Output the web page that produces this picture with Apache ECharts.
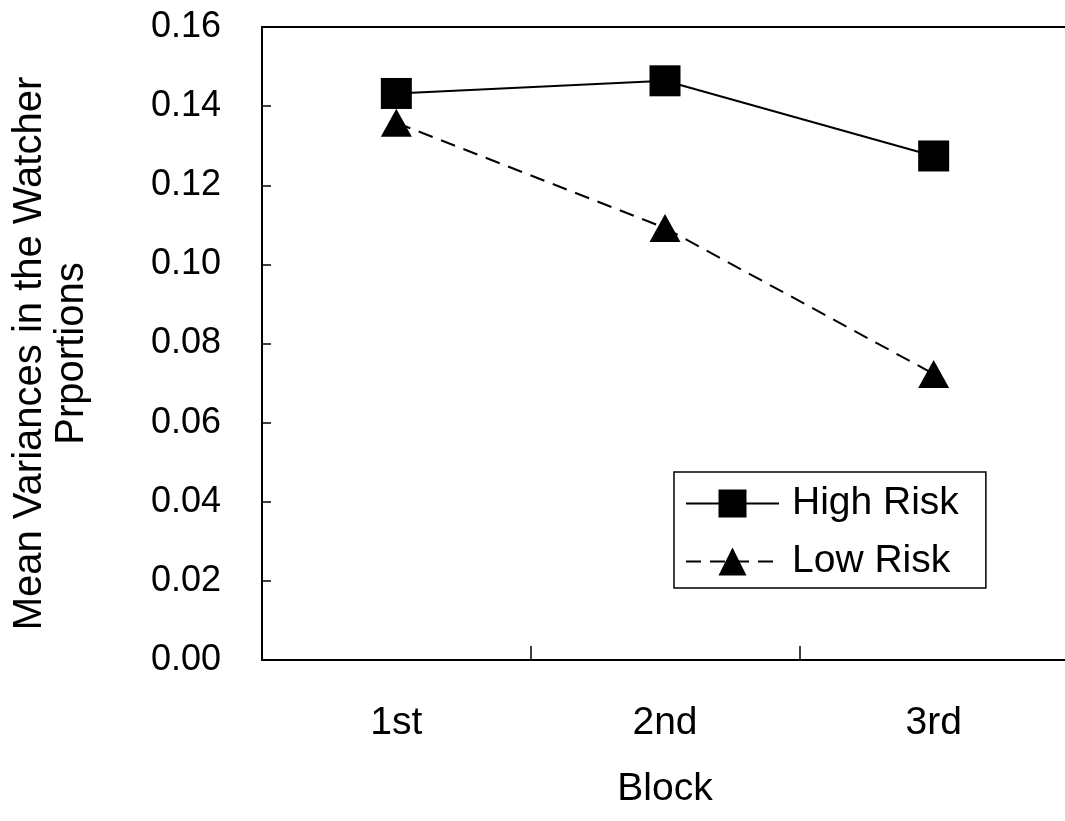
<!DOCTYPE html>
<html>
<head>
<meta charset="utf-8">
<script src="https://cdn.jsdelivr.net/npm/echarts@6/dist/echarts.min.js"></script>
<style>
html,body{margin:0;padding:0;background:#fff;}
#chart{width:1065px;height:821px;}
</style>
</head>
<body>
<div id="chart"></div>
<script>
const categories = ['1st', '2nd', '3rd'];
const highRisk = [0.1432, 0.1464, 0.1274];
const lowRisk = [0.1358, 0.1092, 0.0723];
const yTicks = { min: 0, max: 0.16, interval: 0.02 };
const yName = 'Mean Variances in the Watcher\nPrportions';
const xName = 'Block';
const legendNames = ['High Risk', 'Low Risk'];

const FONT = 'Liberation Sans, Arial, sans-serif';
const chart = echarts.init(document.getElementById('chart'), null, { renderer: 'canvas' });
chart.setOption({
  animation: false,
  backgroundColor: '#fff',
  grid: {
    left: 262, top: 27, width: 806, bottom: 161,
    show: false, containLabel: false, outerBoundsMode: 'none'
  },
  legend: {
    orient: 'vertical',
    left: 674, top: 472,
    padding: [12, 27, 7, 11],
    borderColor: '#000', borderWidth: 1.5,
    backgroundColor: '#fff',
    itemWidth: 93, itemHeight: 35, itemGap: 19,
    textStyle: { fontFamily: FONT, fontSize: 39, color: '#000', lineHeight: 35, padding: [0, 0, 0, 8] },
    data: legendNames
  },
  xAxis: [
    {
      type: 'category',
      data: categories,
      boundaryGap: true,
      name: xName,
      nameLocation: 'middle',
      nameGap: 110,
      nameTextStyle: { fontFamily: FONT, fontSize: 39, color: '#000' },
      axisLine: { show: true, lineStyle: { color: '#000', width: 2 } },
      axisTick: { show: true, inside: true, length: 14, lineStyle: { color: '#000', width: 1.5 } },
      axisLabel: { fontFamily: FONT, fontSize: 39, color: '#000', margin: 44 },
      splitLine: { show: false }
    },
    {
      type: 'category',
      data: categories,
      position: 'top',
      boundaryGap: true,
      axisLine: { show: true, onZero: false, lineStyle: { color: '#000', width: 2 } },
      axisTick: { show: false },
      axisLabel: { show: false },
      splitLine: { show: false }
    }
  ],
  yAxis: {
    type: 'value',
    min: yTicks.min, max: yTicks.max, interval: yTicks.interval,
    name: yName,
    nameLocation: 'middle',
    nameGap: 169,
    nameRotate: 90,
    nameTextStyle: { fontFamily: FONT, fontSize: 40, color: '#000', lineHeight: 42, padding: [0, 20, 0, 0] },
    axisLine: { show: true, lineStyle: { color: '#000', width: 2 } },
    axisTick: { show: true, inside: true, length: 9, lineStyle: { color: '#000', width: 1.5 } },
    axisLabel: {
      fontFamily: FONT, fontSize: 36, color: '#000', margin: 41,
      formatter: v => v.toFixed(2)
    },
    splitLine: { show: false }
  },
  series: [
    {
      name: 'High Risk',
      type: 'line',
      xAxisIndex: 0,
      data: highRisk,
      symbol: 'rect',
      symbolSize: [31, 31],
      itemStyle: { color: '#000' },
      lineStyle: { color: '#000', width: 2, type: 'solid' },
      z: 3
    },
    {
      name: 'Low Risk',
      type: 'line',
      xAxisIndex: 0,
      data: lowRisk,
      symbol: 'triangle',
      symbolSize: [31, 28],
      itemStyle: { color: '#000' },
      lineStyle: { color: '#000', width: 2, type: [15, 9] },
      z: 2
    }
  ]
});
</script>
</body>
</html>
